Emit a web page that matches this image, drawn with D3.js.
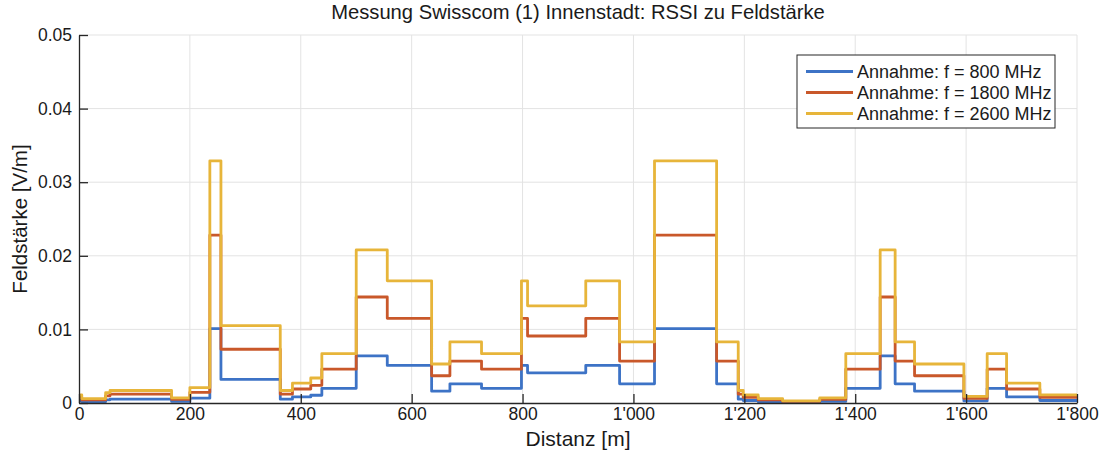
<!DOCTYPE html>
<html>
<head>
<meta charset="utf-8">
<script src="https://cdn.jsdelivr.net/npm/d3@7"></script>
<style>
  body { margin: 0; background: #fff; }
  svg { display: block; font-family: "Liberation Sans", Arial, sans-serif; }
</style>
</head>
<body>
<div id="chart"></div>
<script>
// segment boundaries along the route [m]
const breaks = [0, 5, 48, 56, 167, 200, 236, 256, 363, 385, 418, 438, 500, 556, 636, 669, 726, 798, 809,
  914, 975, 1038, 1150, 1189, 1198, 1225, 1269, 1336, 1383, 1445, 1472, 1507, 1596, 1638, 1673, 1733, 1800];

// field strength per segment [V/m]
const f800 = [0.00034, 0.00018, 0.00043, 0.00052, 0.00022, 0.00065, 0.0101, 0.0032, 0.00052, 0.00083, 0.00105,
  0.0020, 0.0064, 0.0051, 0.0016, 0.0026, 0.0020, 0.0051, 0.0041, 0.0051, 0.0026, 0.0101, 0.0026, 0.00052,
  0.00034, 0.00018, 0.0001, 0.00022, 0.0020, 0.0064, 0.0026, 0.0016, 0.00028, 0.0020, 0.00083, 0.00034];
const f1800 = [0.00076, 0.00042, 0.00097, 0.0012, 0.00048, 0.00145, 0.0228, 0.0073, 0.0012, 0.0019, 0.0024,
  0.0046, 0.0144, 0.0115, 0.0037, 0.0057, 0.0046, 0.0115, 0.0091, 0.0115, 0.0057, 0.0228, 0.0057, 0.0012,
  0.00076, 0.00042, 0.00021, 0.00048, 0.0046, 0.0144, 0.0057, 0.0037, 0.00062, 0.0046, 0.0019, 0.00076];
const f2600 = [0.0011, 0.0006, 0.0014, 0.0017, 0.0007, 0.0021, 0.0329, 0.0105, 0.0017, 0.0027, 0.0034,
  0.0067, 0.0208, 0.0166, 0.0053, 0.0083, 0.0067, 0.0166, 0.0132, 0.0166, 0.0083, 0.0329, 0.0083, 0.0017,
  0.0011, 0.0006, 0.0003, 0.0007, 0.0067, 0.0208, 0.0083, 0.0053, 0.0009, 0.0067, 0.0027, 0.0011];

const seriesNames = ['Annahme: f = 800 MHz', 'Annahme: f = 1800 MHz', 'Annahme: f = 2600 MHz'];
const seriesColors = ['#3d73c6', '#c9582a', '#e7b53a'];

const xTicks = [0, 200, 400, 600, 800, 1000, 1200, 1400, 1600, 1800];
const yTicks = [0, 0.01, 0.02, 0.03, 0.04, 0.05];

const W = 1104, H = 456;
const plot = { left: 79, right: 1077, top: 35, bottom: 403 };

const svg = d3.select('#chart').append('svg').attr('width', W).attr('height', H);

const x = d3.scaleLinear().domain([0, 1800]).range([plot.left, plot.right]);
const y = d3.scaleLinear().domain([0, 0.05]).range([plot.bottom, plot.top]);

// grid
const grid = svg.append('g').attr('stroke', '#e3e3e3').attr('stroke-width', 1);
grid.selectAll('.gx').data(xTicks.slice(1)).join('line')
  .attr('x1', d => x(d)).attr('x2', d => x(d))
  .attr('y1', plot.top).attr('y2', plot.bottom);
grid.selectAll('.gy').data(yTicks.slice(1)).join('line')
  .attr('x1', plot.left).attr('x2', plot.right)
  .attr('y1', d => y(d)).attr('y2', d => y(d));

// step lines
const toPoints = vals => {
  const pts = vals.map((v, i) => [breaks[i], v]);
  pts.push([breaks[breaks.length - 1], vals[vals.length - 1]]);
  return pts;
};
const line = d3.line()
  .x(d => x(d[0]))
  .y(d => y(d[1]))
  .curve(d3.curveStepAfter);

[f800, f1800, f2600].forEach((vals, i) => {
  svg.append('path')
    .attr('d', line(toPoints(vals)))
    .attr('fill', 'none')
    .attr('stroke', seriesColors[i])
    .attr('stroke-width', 2.8)
    .attr('stroke-linejoin', 'round');
});

// axes
const fmtX = d => d >= 1000 ? Math.floor(d / 1000) + "'" + d3.format('03d')(d % 1000) : String(d);
const xAxis = svg.append('g')
  .attr('transform', `translate(0,${plot.bottom})`)
  .call(d3.axisBottom(x).tickValues(xTicks).tickFormat(fmtX).tickSizeInner(-9).tickSizeOuter(0).tickPadding(5));
const yAxis = svg.append('g')
  .attr('transform', `translate(${plot.left},0)`)
  .call(d3.axisLeft(y).tickValues(yTicks).tickFormat(d => d === 0 ? '0' : d3.format('.2f')(d)).tickSizeInner(-9).tickSizeOuter(0).tickPadding(7));

[xAxis, yAxis].forEach(a => {
  a.select('.domain').attr('stroke', '#262626').attr('stroke-width', 1.3);
  a.selectAll('.tick line').attr('stroke', '#262626').attr('stroke-width', 1.3);
  a.selectAll('.tick text').attr('fill', '#1a1a1a').style('font-size', '17.5px').style('font-family', '"Liberation Sans", Arial, sans-serif');
});

// labels
svg.append('text')
  .attr('x', (plot.left + plot.right) / 2).attr('y', 19)
  .attr('text-anchor', 'middle').attr('fill', '#1a1a1a')
  .style('font-size', '20.2px')
  .text('Messung Swisscom (1) Innenstadt: RSSI zu Feldstärke');

svg.append('text')
  .attr('x', (plot.left + plot.right) / 2).attr('y', 446)
  .attr('text-anchor', 'middle').attr('fill', '#1a1a1a')
  .style('font-size', '21px')
  .text('Distanz [m]');

svg.append('text')
  .attr('transform', `translate(27,${(plot.top + plot.bottom) / 2}) rotate(-90)`)
  .attr('text-anchor', 'middle').attr('fill', '#1a1a1a')
  .style('font-size', '20.5px')
  .text('Feldstärke [V/m]');

// legend
const lg = svg.append('g').attr('transform', 'translate(797,55)');
lg.append('rect').attr('width', 258).attr('height', 73)
  .attr('fill', '#fff').attr('stroke', '#262626').attr('stroke-width', 1);
seriesNames.forEach((name, i) => {
  const ly = 16.5 + i * 21;
  lg.append('line').attr('x1', 9).attr('x2', 56).attr('y1', ly).attr('y2', ly)
    .attr('stroke', seriesColors[i]).attr('stroke-width', 2.8);
  lg.append('text').attr('x', 60).attr('y', ly).attr('dy', '0.35em')
    .attr('fill', '#1a1a1a').style('font-size', '18px').text(name);
});
</script>
</body>
</html>
